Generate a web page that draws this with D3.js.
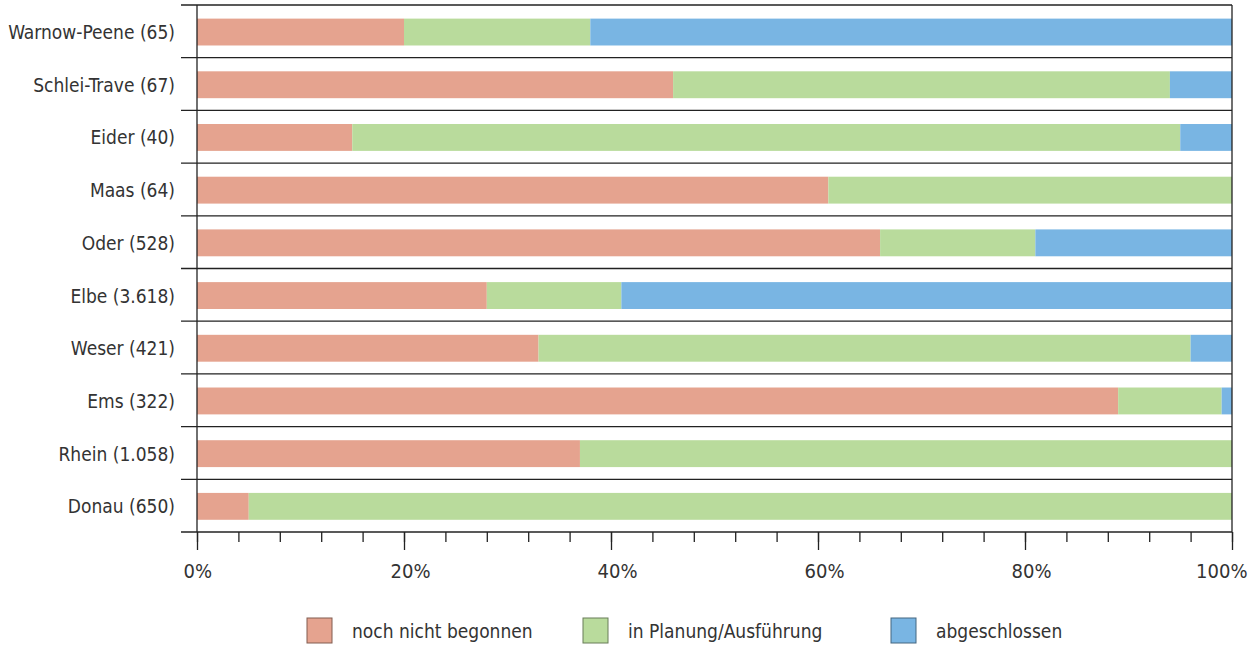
<!DOCTYPE html>
<html>
<head>
<meta charset="utf-8">
<script src="https://cdn.jsdelivr.net/npm/d3@7"></script>
<style>
  body { margin: 0; background: #fff; }
  text { font-family: "DejaVu Sans Condensed", "Liberation Sans Narrow", sans-serif; fill: #333; }
</style>
</head>
<body>
<script>
// data, top to bottom
var rivers = ["Warnow-Peene (65)", "Schlei-Trave (67)", "Eider (40)", "Maas (64)", "Oder (528)",
              "Elbe (3.618)", "Weser (421)", "Ems (322)", "Rhein (1.058)", "Donau (650)"];
var notStarted = [20, 46, 15, 61, 66, 28, 33, 89, 37, 5];
var inProgress = [18, 48, 80, 39, 15, 13, 63, 10, 63, 95];
var finished   = [62, 6, 5, 0, 19, 59, 4, 1, 0, 0];
var seriesNames = ["noch nicht begonnen", "in Planung/Ausführung", "abgeschlossen"];
var seriesColors = ["#e5a38f", "#b9db9c", "#79b5e3"];
var majorTicks = [0, 20, 40, 60, 80, 100];

var width = 1259, height = 647;

var svg = d3.select("body").append("svg")
    .attr("width", width)
    .attr("height", height);

var x = d3.scaleLinear().domain([0, 100]).range([197, 1232]);
var y = d3.scaleBand().domain(rivers).range([5, 532]);
var barH = y.bandwidth() * 0.51;

var rows = rivers.map(function(r, i) {
    return { river: r, a: notStarted[i], b: inProgress[i], c: finished[i] };
});
var stack = d3.stack().keys(["a", "b", "c"]);
var layers = stack(rows);

// separators between rows
var seps = rivers.map(function(r) { return y(r); }).concat([y.range()[1]]);
svg.selectAll(".sep")
    .data(seps)
    .enter().append("line")
    .attr("x1", 181)
    .attr("x2", x(100))
    .attr("y1", function(d) { return d; })
    .attr("y2", function(d) { return d; })
    .style("stroke", "#222")
    .style("stroke-width", 1.3);

// bars
svg.selectAll(".layer")
    .data(layers)
    .enter().append("g")
    .style("fill", function(d, i) { return seriesColors[i]; })
    .selectAll("rect")
    .data(function(d) { return d; })
    .enter().append("rect")
    .attr("x", function(d) { return x(d[0]); })
    .attr("width", function(d) { return x(d[1]) - x(d[0]); })
    .attr("y", function(d) { return y(d.data.river) + (y.bandwidth() - barH) / 2 + 0.7; })
    .attr("height", barH);

// minor ticks
var minor = d3.range(0, 101, 4);
svg.append("g")
    .attr("transform", "translate(0," + y.range()[1] + ")")
    .call(d3.axisBottom(x).tickValues(minor).tickSize(10).tickFormat(""))
    .call(function(g) { g.select(".domain").remove(); })
    .selectAll("line").style("stroke", "#222").style("stroke-width", 1.3);

// major ticks with labels
var xAxis = svg.append("g")
    .attr("transform", "translate(0," + y.range()[1] + ")")
    .call(d3.axisBottom(x).tickValues(majorTicks).tickSize(18).tickPadding(14)
        .tickFormat(function(d) { return d + "%"; }));
xAxis.select(".domain").remove();
xAxis.selectAll("line").style("stroke", "#222").style("stroke-width", 1.3);
xAxis.selectAll("text")
    .style("font-size", "20px")
    .style("fill", "#333")
    .style("text-anchor", function(d) { return d == 100 ? "end" : "start"; })
    .attr("x", function(d) { return d == 100 ? 15 : -14; });

// left axis and right border
svg.selectAll(".vline")
    .data([0, 100])
    .enter().append("line")
    .attr("x1", function(d) { return x(d); })
    .attr("x2", function(d) { return x(d); })
    .attr("y1", y.range()[0])
    .attr("y2", y.range()[1])
    .style("stroke", "#222")
    .style("stroke-width", 1.3);

// category labels
svg.selectAll(".cat")
    .data(rivers)
    .enter().append("text")
    .attr("x", 175)
    .attr("y", function(d) { return y(d) + y.bandwidth() / 2 + 1; })
    .attr("dy", "0.35em")
    .style("text-anchor", "end")
    .style("font-size", "19px")
    .text(function(d) { return d; });

// legend
var legendX = [307, 583, 891];
var legend = svg.selectAll(".legend")
    .data(seriesNames)
    .enter().append("g")
    .attr("transform", function(d, i) { return "translate(" + legendX[i] + ",618)"; });
legend.append("rect")
    .attr("width", 25)
    .attr("height", 25)
    .style("fill", function(d, i) { return seriesColors[i]; })
    .style("stroke", function(d, i) { return d3.color(seriesColors[i]).darker(1.6); })
    .style("stroke-width", 1);
legend.append("text")
    .attr("x", 45)
    .attr("y", 13)
    .attr("dy", "0.35em")
    .style("font-size", "19px")
    .text(function(d) { return d; });
</script>
</body>
</html>
